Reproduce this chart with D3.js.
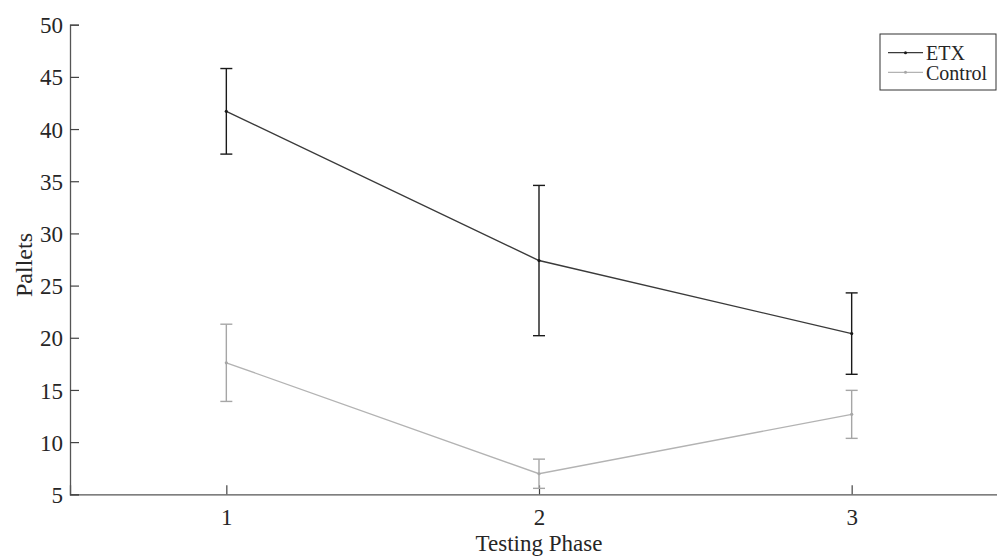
<!DOCTYPE html>
<html>
<head>
<meta charset="utf-8">
<script src="https://cdn.jsdelivr.net/npm/d3@7"></script>
<style>
  body { margin: 0; background: #fff; }
  svg { display: block; }
  text { font-family: "Liberation Serif", "Times New Roman", serif; fill: #262626; }
</style>
</head>
<body>
<div id="chart"></div>
<script>
// data
var phases = [1, 2, 3];
var etxMean = [41.7, 27.4, 20.4];
var etxErr = [4.1, 7.2, 3.9];
var controlMean = [17.6, 6.97, 12.66];
var controlErr = [3.7, 1.4, 2.3];
var yTicks = [5, 10, 15, 20, 25, 30, 35, 40, 45, 50];

(function() {
  var series = [
    { name: "ETX", mean: etxMean, err: etxErr, color: "#1a1a1a", lineColor: "#3a3a3a" },
    { name: "Control", mean: controlMean, err: controlErr, color: "#a6a6a6", lineColor: "#b3b3b3" }
  ];

  var width = 997, height = 559;
  var mLeft = 70, mTop = 24.7, plotRight = 1008, mBottom = 494.3;

  var svg = d3.select("#chart").append("svg")
    .attr("width", width).attr("height", height);

  var x = d3.scaleLinear().domain([0.5, 3.5]).range([mLeft, plotRight]);
  var y = d3.scaleLinear().domain([5, 50]).range([mBottom, mTop]);

  // axes, ticks pointing inward like matlab
  var gx = svg.append("g").attr("transform", "translate(0," + mBottom + ")")
    .call(d3.axisBottom(x).tickValues(phases).tickSize(-9).tickPadding(14).tickFormat(d3.format("d")));
  var gy = svg.append("g").attr("transform", "translate(" + mLeft + ",0)")
    .call(d3.axisLeft(y).tickValues(yTicks).tickSize(-9).tickPadding(7));

  [gx, gy].forEach(function(g) {
    g.select(".domain").attr("stroke", "#555").attr("stroke-width", 1.3);
    g.selectAll(".tick line").attr("stroke", "#444").attr("stroke-width", 1.2);
    g.selectAll(".tick text").style("font-size", "23px").attr("fill", "#262626");
  });
  gy.selectAll(".tick text").attr("dy", "0.35em");

  svg.append("text").attr("x", x(2)).attr("y", 551)
    .attr("text-anchor", "middle").style("font-size", "23px").text("Testing Phase");
  svg.append("text").attr("transform", "translate(32,265) rotate(-90)")
    .attr("text-anchor", "middle").style("font-size", "24px").text("Pallets");

  var line = d3.line().x(function(d) { return x(d.p); }).y(function(d) { return y(d.v); });
  var cap = 6;

  series.forEach(function(s) {
    var pts = phases.map(function(p, i) { return { p: p, v: s.mean[i], e: s.err[i] }; });
    var g = svg.append("g");

    g.append("path").datum(pts).attr("d", line)
      .attr("fill", "none").attr("stroke", s.lineColor).attr("stroke-width", 1.4);

    var eb = g.selectAll(".eb").data(pts).enter().append("g");
    eb.append("line")
      .attr("x1", function(d) { return x(d.p); }).attr("x2", function(d) { return x(d.p); })
      .attr("y1", function(d) { return y(d.v + d.e); }).attr("y2", function(d) { return y(d.v - d.e); })
      .attr("stroke", s.color).attr("stroke-width", 1.4);
    [1, -1].forEach(function(sign) {
      eb.append("line")
        .attr("x1", function(d) { return x(d.p) - cap; }).attr("x2", function(d) { return x(d.p) + cap; })
        .attr("y1", function(d) { return y(d.v + sign * d.e); }).attr("y2", function(d) { return y(d.v + sign * d.e); })
        .attr("stroke", s.color).attr("stroke-width", 1.4);
    });
    eb.append("circle")
      .attr("cx", function(d) { return x(d.p); }).attr("cy", function(d) { return y(d.v); })
      .attr("r", 1.6).attr("fill", s.color);
  });

  // legend
  var lg = svg.append("g").attr("transform", "translate(880,34)");
  lg.append("rect").attr("width", 116).attr("height", 56)
    .attr("fill", "#fff").attr("stroke", "#333").attr("stroke-width", 1);
  series.forEach(function(s, i) {
    var yy = 18.7 + i * 19.6;
    lg.append("line").attr("x1", 8).attr("x2", 43).attr("y1", yy).attr("y2", yy)
      .attr("stroke", s.lineColor).attr("stroke-width", 1.2);
    lg.append("circle").attr("cx", 25.5).attr("cy", yy).attr("r", 1.5).attr("fill", s.color);
    lg.append("text").attr("x", 46).attr("y", yy + 1).attr("dy", "0.32em")
      .style("font-size", "20px").text(s.name);
  });
})();
</script>
</body>
</html>
